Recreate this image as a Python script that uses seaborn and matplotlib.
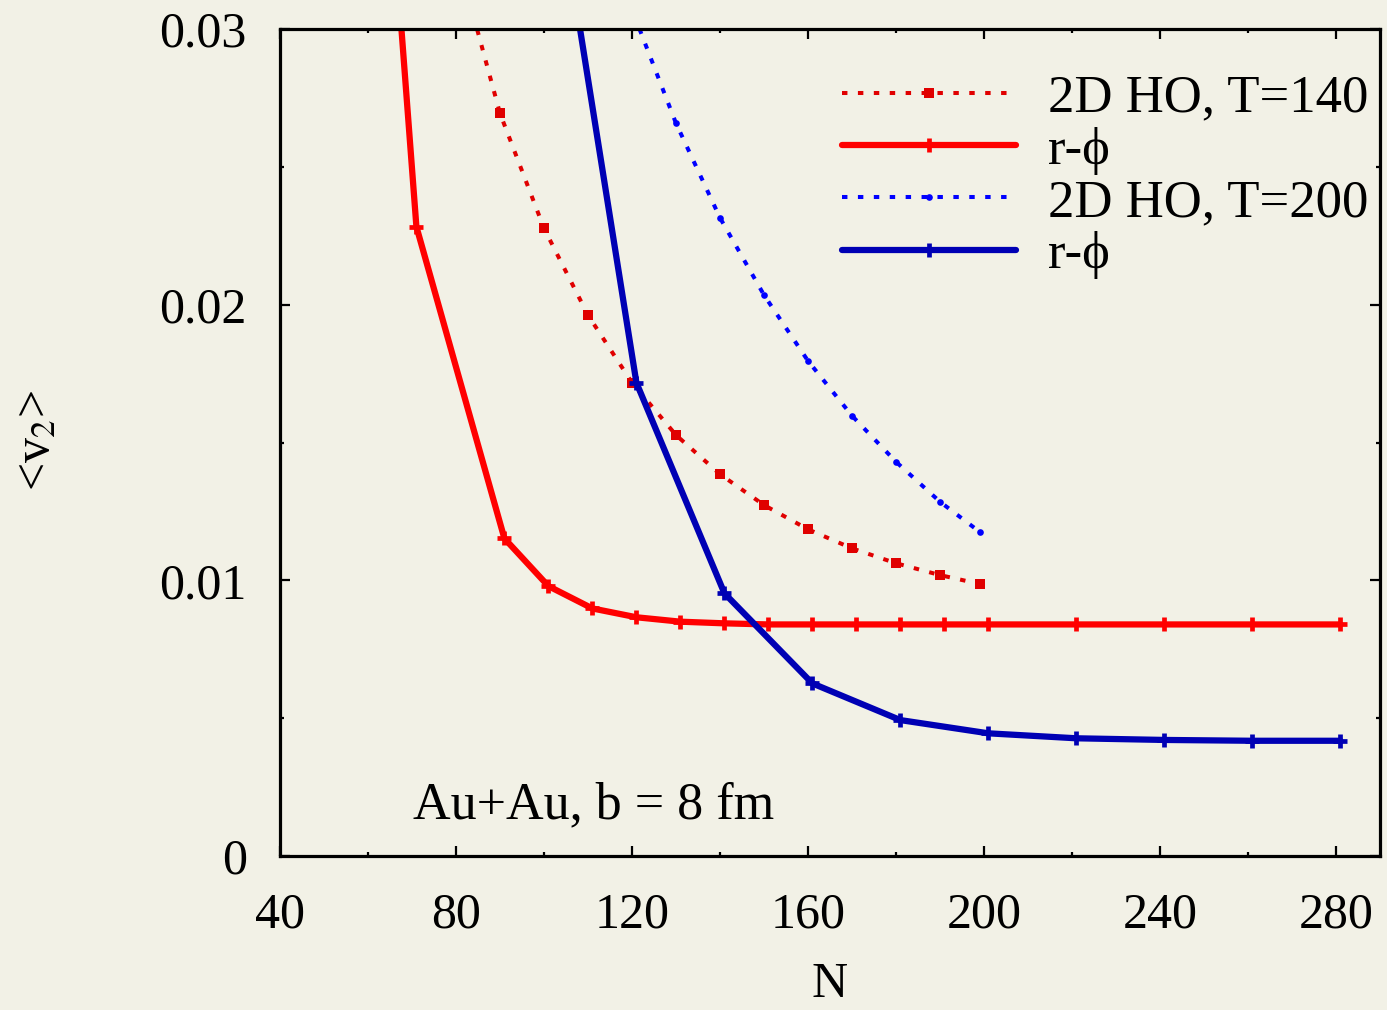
import matplotlib
matplotlib.use("Agg")
import matplotlib.pyplot as plt
import seaborn as sns
import pandas as pd
import numpy as np

# ---- data ----
ho140_N = [80, 90, 100, 110, 120, 130, 140, 150, 160, 170, 180, 190, 199]
ho140_v = [0.0328, 0.02694, 0.02277, 0.01962, 0.01717, 0.01527, 0.01385, 0.01273,
           0.01185, 0.01116, 0.01062, 0.01019, 0.00987]

rphi140_N = [61, 71, 91, 101, 111, 121, 131, 141, 151, 161, 171, 181, 191, 201, 221, 241, 261, 281]
rphi140_v = [0.0439, 0.02283, 0.01152, 0.00979, 0.00898, 0.00866, 0.0085, 0.00844, 0.0084,
             0.0084, 0.0084, 0.0084, 0.0084, 0.0084, 0.0084, 0.0084, 0.0084, 0.0084]

ho200_N = [110, 120, 130, 140, 150, 160, 170, 180, 190, 199]
ho200_v = [0.0352, 0.0307, 0.02658, 0.02315, 0.02035, 0.01796, 0.01597, 0.0143, 0.01285, 0.01176]

rphi200_N = [101, 121, 141, 161, 181, 201, 221, 241, 261, 281]
rphi200_v = [0.0372, 0.01717, 0.00953, 0.00626, 0.00493, 0.00445, 0.00427, 0.00421, 0.00418, 0.00418]

labels = ["2D HO, T=140", "r-\u03d5", "2D HO, T=200", "r-\u03d5"]
x_ticks = [40, 80, 120, 160, 200, 240, 280]
y_ticks = [0, 0.01, 0.02, 0.03]
y_tick_labels = ["0", "0.01", "0.02", "0.03"]
annotation = "Au+Au, b = 8 fm"

# ---- style ----
bg = "#f2f1e6"
sns.set_style("ticks")
plt.rcParams["font.family"] = ["Liberation Serif", "DejaVu Serif"]
plt.rcParams["mathtext.fontset"] = "stix"
plt.rcParams["axes.linewidth"] = 2.3
plt.rcParams["text.color"] = "black"
plt.rcParams["axes.labelcolor"] = "black"
plt.rcParams["xtick.color"] = "black"
plt.rcParams["ytick.color"] = "black"

fig = plt.figure(figsize=(13.87, 10.10), dpi=100, facecolor=bg)
ax = fig.add_axes([280 / 1387, 154 / 1010, 1100 / 1387, 827 / 1010])
ax.set_facecolor(bg)

dot_style = (0, (1.35, 2.6))

df1 = pd.DataFrame({"N": ho140_N, "v2": ho140_v})
df2 = pd.DataFrame({"N": rphi140_N, "v2": rphi140_v})
df3 = pd.DataFrame({"N": ho200_N, "v2": ho200_v})
df4 = pd.DataFrame({"N": rphi200_N, "v2": rphi200_v})

c1, c2, c3, c4 = "#e00000", "#ff0000", "#0000ff", "#0000b4"
sns.lineplot(data=df1, x="N", y="v2", ax=ax, color=c1, lw=2.9, linestyle=dot_style,
             marker="s", markersize=7.8, markeredgewidth=0, markerfacecolor=c1,
             markeredgecolor=c1, label=labels[0], sort=False)
sns.lineplot(data=df2, x="N", y="v2", ax=ax, color=c2, lw=4.5,
             marker="+", markersize=9.5, markeredgewidth=3.4, markeredgecolor=c2,
             label=labels[1], sort=False)
sns.lineplot(data=df3, x="N", y="v2", ax=ax, color=c3, lw=2.9, linestyle=dot_style,
             marker="o", markersize=4.8, markeredgewidth=0, markerfacecolor=c3,
             markeredgecolor=c3, label=labels[2], sort=False)
sns.lineplot(data=df4, x="N", y="v2", ax=ax, color=c4, lw=4.5,
             marker="+", markersize=9.5, markeredgewidth=3.4, markeredgecolor=c4,
             label=labels[3], sort=False)

ax.set_xlim(40, 290)
ax.set_ylim(0, 0.03)
ax.set_xticks(x_ticks)
ax.set_xticks(np.arange(60, 290, 40), minor=True)
ax.set_yticks(y_ticks)
ax.set_yticklabels(y_tick_labels)
ax.set_yticks([0.005, 0.015, 0.025], minor=True)

for s in ax.spines.values():
    s.set_visible(True)
    s.set_color("black")
    s.set_linewidth(2.3)

ax.tick_params(which="both", direction="in", top=True, right=True, color="black",
               labelcolor="black", width=1.6)
ax.tick_params(which="major", length=7.5, labelsize=36)
ax.tick_params(which="minor", length=3)
ax.tick_params(axis="x", which="major", pad=26)
ax.tick_params(axis="y", which="major", pad=24)

ax.set_xlabel("N", fontsize=36)
ax.set_ylabel(r"<v$_2$>", fontsize=36)
ax.xaxis.set_label_coords(0.5, -0.128)
ax.yaxis.set_label_coords(-0.2, 0.503)

ax.text(0.121, 0.046, annotation, transform=ax.transAxes, fontsize=37.5,
        va="baseline", ha="left")

leg = ax.legend(loc="upper right", bbox_to_anchor=(0.989, 0.945), frameon=False,
                fontsize=38, handlelength=3.3, handletextpad=0.6, labelspacing=0.08,
                borderaxespad=0, borderpad=0, numpoints=1)

fig.savefig("out.png", dpi=100, facecolor=bg)
